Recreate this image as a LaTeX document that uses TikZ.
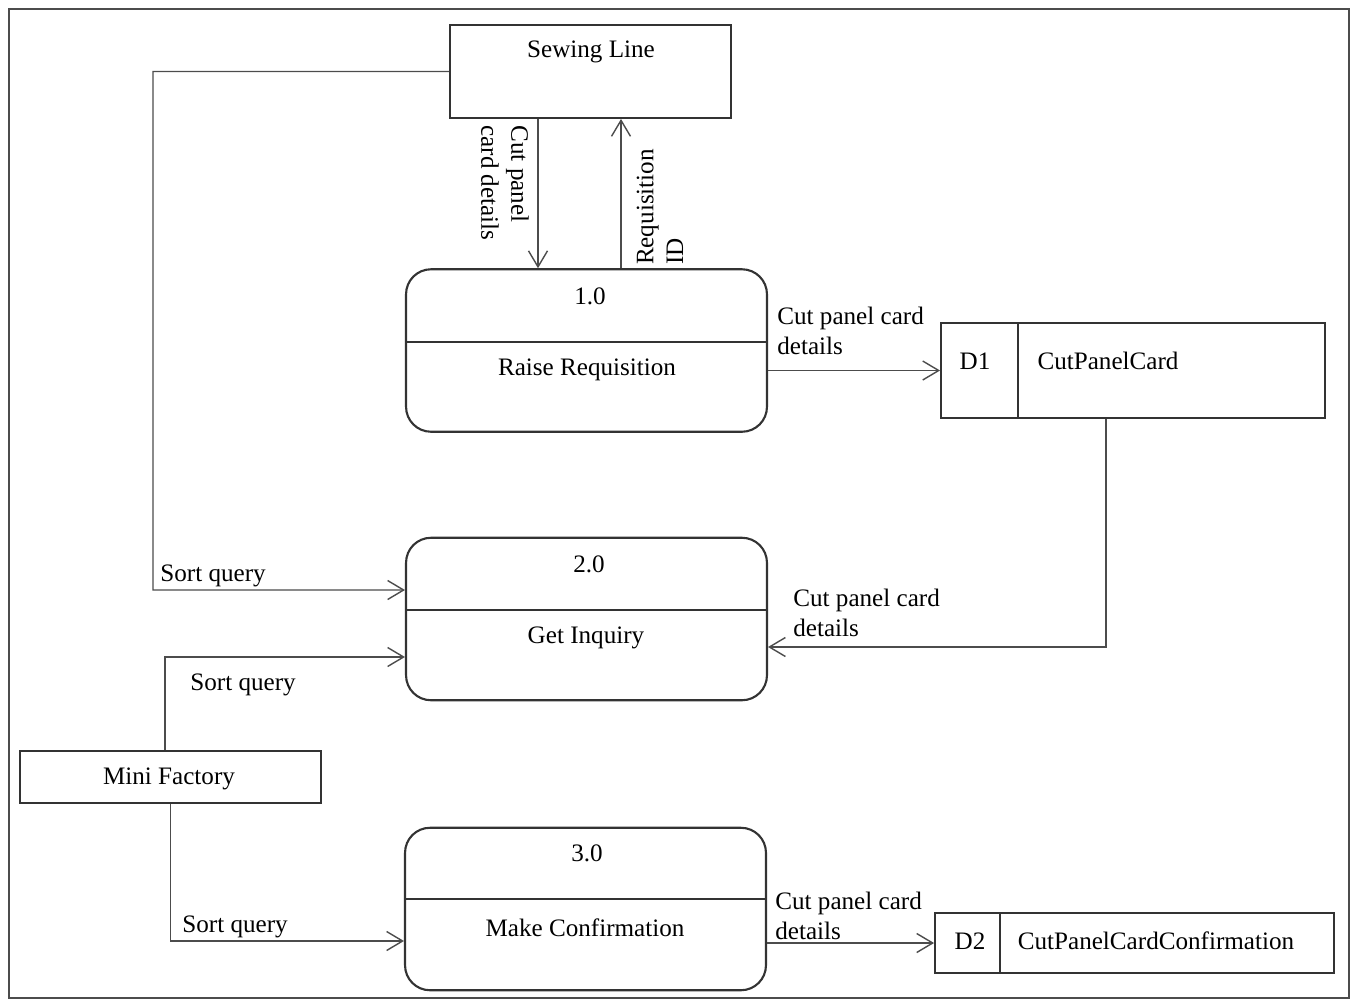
\documentclass[tikz,border=0pt]{standalone}
\usepackage{fontspec}
\setmainfont{Liberation Serif}
\usetikzlibrary{arrows.meta,positioning,calc}

\begin{document}
\begin{tikzpicture}
[x=0.02cm,y=-0.02cm%
,every node/.style={font=\fontsize{14.3}{17}\selectfont,%
                    inner sep=0pt}%
,process/.style={draw=black!80,%
                 line width=1.2pt,%
                 rounded corners=5mm,%
                 minimum width=7.22cm,%
                 minimum height=3.25cm}%
,entity/.style={draw=black!80,%
                line width=1.1pt}%
,store/.style={draw=black!80,%
               line width=1.1pt}%
,flow/.style={draw=black!70,%
              line width=0.8pt,%
              -{Straight Barb[length=3.2mm,width=3.8mm]}}%
,lbl/.style={align=left,anchor=north west}]
\useasboundingbox (0,0) rectangle (1356,1002);
\draw[black!70,line width=1.5pt] (9,9) rectangle (1349,998);

% external entities
\node[entity,minimum width=5.62cm,minimum height=1.86cm] (sewing) at (590.5,71.5) {};
\node (sewingtxt) at (591,52) {Sewing Line};
\node[entity,minimum width=6.02cm,minimum height=1.04cm] (mini) at (170.5,777) {};
\node (minitxt) at (169,779) {Mini Factory};

% processes
\node[process] (p1) at (586.5,350.5) {};
\draw[black!80,line width=1pt] (p1.west |- 0,342) -- (p1.east |- 0,342);
\node (p1id) at (590,296) {1.0};
\node (p1name) at (587,370) {Raise Requisition};

\node[process] (p2) at (586.5,619) {};
\draw[black!80,line width=1pt] (p2.west |- 0,610) -- (p2.east |- 0,610);
\node (p2id) at (589,564) {2.0};
\node (p2name) at (586,638) {Get Inquiry};

\node[process] (p3) at (585.5,909) {};
\draw[black!80,line width=1pt] (p3.west |- 0,899) -- (p3.east |- 0,899);
\node (p3id) at (587,853) {3.0};
\node (p3name) at (585,928) {Make Confirmation};

% data stores
\node[store,minimum width=7.68cm,minimum height=1.9cm] (d1) at (1133,370.5) {};
\draw[black!80,line width=1pt] (1018,0 |- d1.north) -- (1018,0 |- d1.south);
\node (d1id) at (975,361) {D1};
\node (d1name) at (1108,361) {CutPanelCard};

\node[store,minimum width=7.98cm,minimum height=1.2cm] (d2) at (1134.5,943) {};
\draw[black!80,line width=1pt] (1000,0 |- d2.north) -- (1000,0 |- d2.south);
\node (d2id) at (970,941) {D2};
\node (d2name) at (1156,941) {CutPanelCardConfirmation};

% data flows
\draw[flow] (sewing.south -| 538,0) -- (538,0 |- p1.north);
\node[align=left,rotate=-90] (f1) at (505,183) {Cut panel\\card details};
\draw[flow] (621,0 |- p1.north) -- (sewing.south -| 621,0);
\node[align=left,rotate=90] (f2) at (660,207) {Requisition\\ID};

\draw[flow] (p1.east |- d1.west) -- (d1.west);
\node[lbl] (f3) at (777,307) {Cut panel card\\details};

\coordinate (bend1) at (153,590);
\draw[flow] (sewing.west) -| (bend1) -- ([yshift=0.58cm]p2.west);
\node[anchor=south west] (f4) at (160,587) {Sort query};

\draw[flow] ([xshift=-0.54cm]d1.south) |- ([yshift=-0.56cm]p2.east);
\node[lbl] (f5) at (793,589) {Cut panel card\\details};

\draw[flow] ([xshift=-0.11cm]mini.north) |- ([yshift=-0.76cm]p2.west);
\node[lbl] (f6) at (190,673) {Sort query};

\draw[flow] (mini.south) |- ([yshift=-0.64cm]p3.west);
\node[anchor=south west] (f7) at (182,938) {Sort query};

\draw[flow] (p3.east |- d2.west) -- (d2.west);
\node[lbl] (f8) at (775,892) {Cut panel card\\details};
\end{tikzpicture}
\end{document}
